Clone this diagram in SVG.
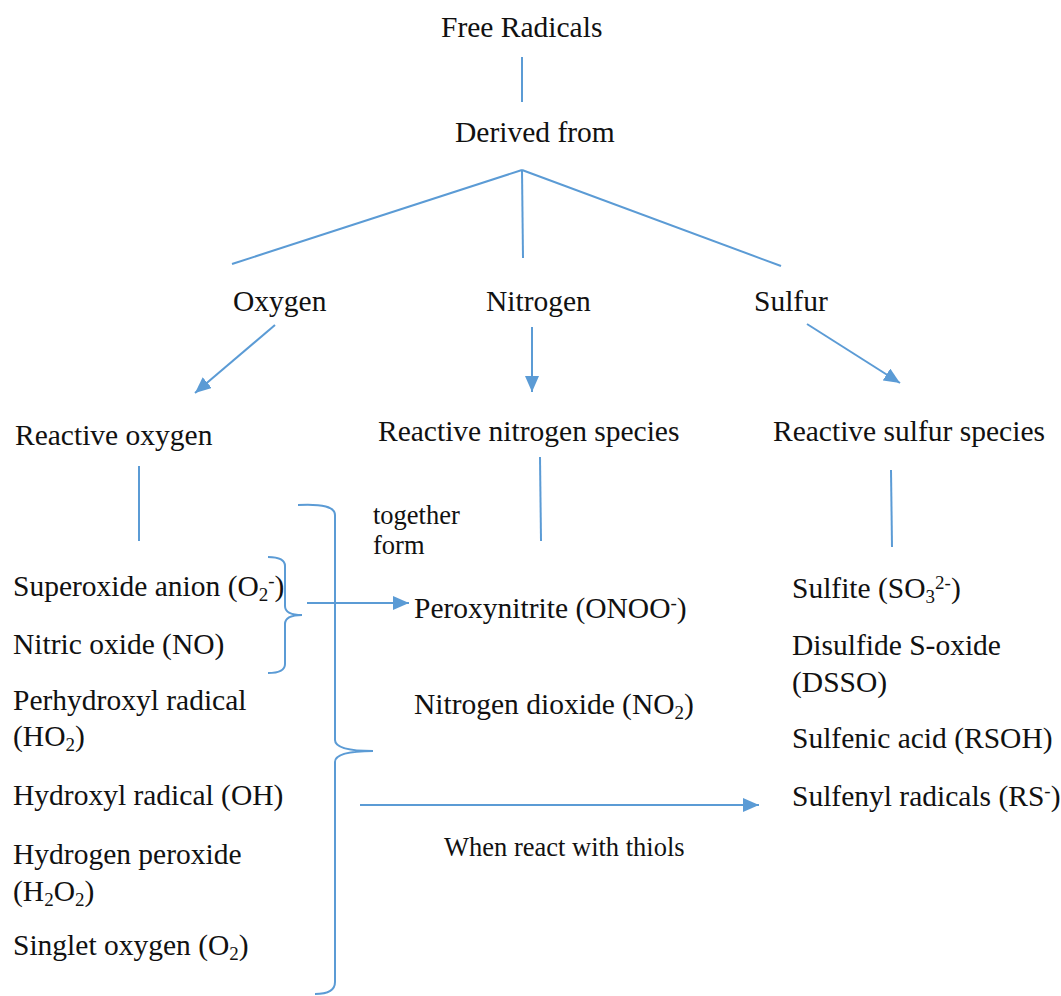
<svg xmlns="http://www.w3.org/2000/svg" width="1061" height="996" viewBox="0 0 1061 996">
<style>
.t{font-family:"Liberation Serif","Times New Roman",Tinos,serif;font-size:29.5px;fill:#111}
.sm{font-size:26.5px}
.c{stroke:#5B9BD5;stroke-width:2;fill:none}
.sb{font-size:19px}
</style>
<defs>
<marker id="ah" markerUnits="userSpaceOnUse" markerWidth="17" markerHeight="14" refX="16" refY="7" orient="auto">
<path d="M0,0 L16,7 L0,14 z" fill="#5B9BD5"/>
</marker>
</defs>
<rect width="1061" height="996" fill="#fff"/>
<g id="connectors">
<line class="c" x1="522" y1="57" x2="522" y2="102"/>
<line class="c" x1="522" y1="170" x2="232" y2="264"/>
<line class="c" x1="522" y1="170" x2="523" y2="258"/>
<line class="c" x1="522" y1="170" x2="781" y2="266"/>
<line class="c" x1="275" y1="325" x2="195" y2="393" marker-end="url(#ah)"/>
<line class="c" x1="532" y1="327" x2="532" y2="392" marker-end="url(#ah)"/>
<line class="c" x1="807" y1="324" x2="900" y2="383" marker-end="url(#ah)"/>
<line class="c" x1="139" y1="466" x2="139" y2="541"/>
<line class="c" x1="540" y1="457" x2="541" y2="541"/>
<line class="c" x1="891" y1="470" x2="892" y2="547"/>
<path class="c" d="M268,557 Q285,557 285,566 L285,606 Q285,615 302,615 Q285,615 285,624 L285,664 Q285,673 268,673"/>
<path class="c" d="M298,505 Q335,503 335,515 L335,740 Q335,751 373,751 Q335,751 335,762 L335,982 Q335,994 315,994"/>
<line class="c" x1="307" y1="603" x2="409" y2="603" marker-end="url(#ah)"/>
<line class="c" x1="360" y1="805" x2="759" y2="805" marker-end="url(#ah)"/>
</g>
<g id="n-free"><text class="t" x="441" y="37">Free Radicals</text></g>
<g id="n-derived"><text class="t" x="455" y="142">Derived from</text></g>
<g id="n-oxygen"><text class="t" x="233" y="311">Oxygen</text></g>
<g id="n-nitrogen"><text class="t" x="486" y="311">Nitrogen</text></g>
<g id="n-sulfur"><text class="t" x="754" y="311">Sulfur</text></g>
<g id="n-ros"><text class="t" x="15" y="445">Reactive oxygen</text></g>
<g id="n-rns"><text class="t" x="378" y="441">Reactive nitrogen species</text></g>
<g id="n-rss"><text class="t" x="773" y="441">Reactive sulfur species</text></g>
<g id="n-ros-list">
<text class="t" x="13" y="596">Superoxide anion (O<tspan class="sb" dy="5">2</tspan><tspan class="sb" dy="-14">-</tspan><tspan dy="9">)</tspan></text>
<text class="t" x="13" y="654">Nitric oxide (NO)</text>
<text class="t" x="13" y="710">Perhydroxyl radical</text>
<text class="t" x="13" y="746">(HO<tspan class="sb" dy="5">2</tspan><tspan dy="-5">)</tspan></text>
<text class="t" x="13" y="805">Hydroxyl radical (OH)</text>
<text class="t" x="13" y="864">Hydrogen peroxide</text>
<text class="t" x="13" y="901">(H<tspan class="sb" dy="5">2</tspan><tspan dy="-5">O</tspan><tspan class="sb" dy="5">2</tspan><tspan dy="-5">)</tspan></text>
<text class="t" x="13" y="955">Singlet oxygen (O<tspan class="sb" dy="5">2</tspan><tspan dy="-5">)</tspan></text>
</g>
<g id="n-together"><text class="t sm" x="373" y="524">together</text><text class="t sm" x="373" y="554">form</text></g>
<g id="n-rns-list">
<text class="t" x="414" y="618">Peroxynitrite (ONOO<tspan class="sb" dy="-9">-</tspan><tspan dy="9">)</tspan></text>
<text class="t" x="414" y="714">Nitrogen dioxide (NO<tspan class="sb" dy="5">2</tspan><tspan dy="-5">)</tspan></text>
</g>
<g id="n-rss-list">
<text class="t" x="792" y="598">Sulfite (SO<tspan class="sb" dy="5">3</tspan><tspan class="sb" dy="-14">2-</tspan><tspan dy="9">)</tspan></text>
<text class="t" x="792" y="655">Disulfide S-oxide</text>
<text class="t" x="792" y="692">(DSSO)</text>
<text class="t" x="792" y="748">Sulfenic acid (RSOH)</text>
<text class="t" x="792" y="806">Sulfenyl radicals (RS<tspan class="sb" dy="-9">-</tspan><tspan dy="9">)</tspan></text>
</g>
<g id="n-thiols"><text class="t sm" x="444" y="856">When react with thiols</text></g>
</svg>
